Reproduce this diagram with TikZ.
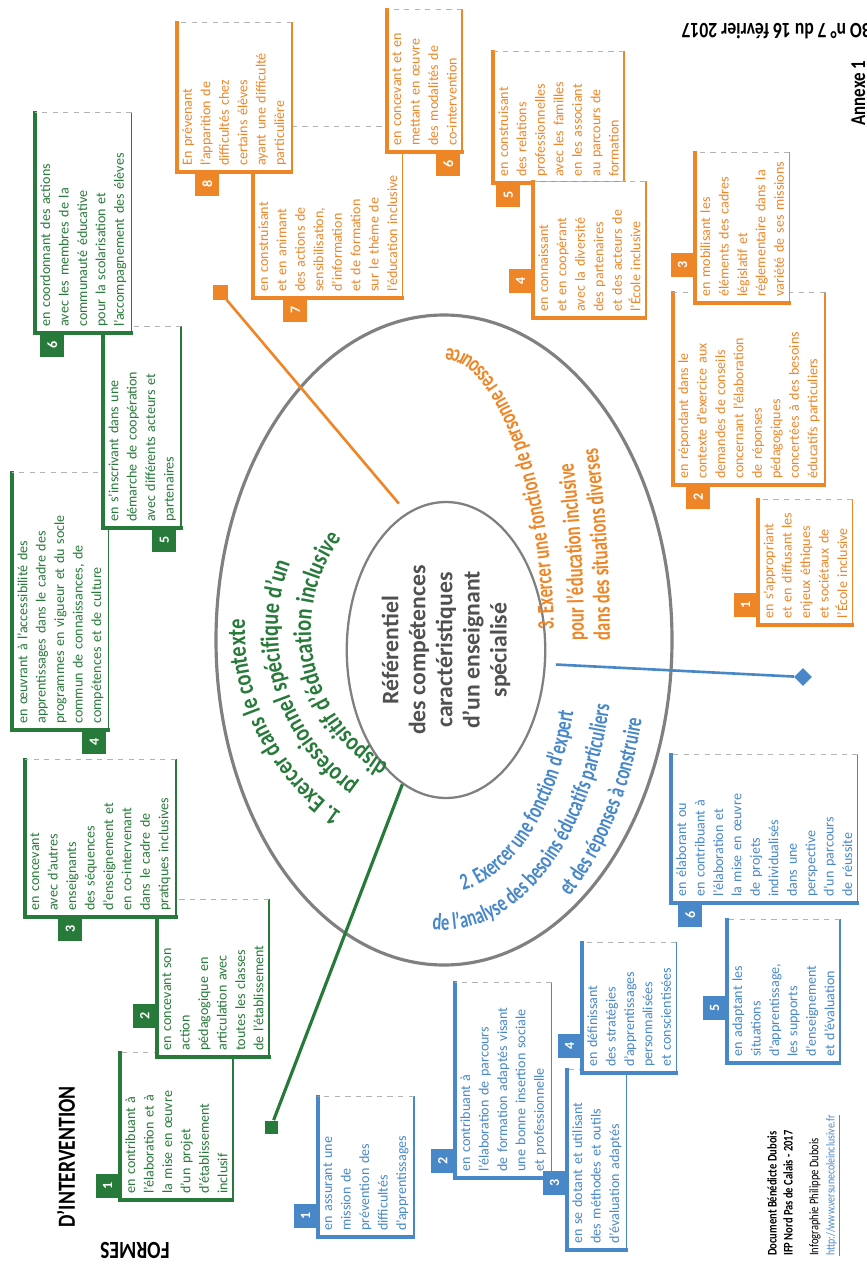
\documentclass[tikz,border=0pt]{standalone}
\usepackage{fontspec}
\setmainfont{Carlito}
\newfontfamily\titlefont[FakeStretch=0.8]{Carlito}
\newfontfamily\narrowfont[FakeStretch=0.7]{Carlito}
\usetikzlibrary{decorations.text,shapes.geometric}

\definecolor{grn}{RGB}{40,122,58}
\definecolor{org}{RGB}{238,134,40}
\definecolor{blu}{RGB}{72,136,200}
\definecolor{gry}{RGB}{128,128,128}
\definecolor{ctxt}{RGB}{80,80,80}

\newlength{\pxu}
\setlength{\pxu}{0.02cm}
\newcommand{\gttl}{\titlefont\bfseries\fontsize{14.5}{16}\selectfont}
\newcommand{\nttl}{\narrowfont\bfseries\fontsize{13.5}{15}\selectfont}

\tikzset{
  cbox/.style={fill=white, text=#1, align=left, anchor=north west,
    inner xsep=6\pxu, inner ysep=5\pxu, font=\fontsize{8}{10.5}\selectfont,
    append after command={
      (\tikzlastnode.north east) edge[draw=#1, line width=1.8pt, line cap=rect] (\tikzlastnode.north west)
      (\tikzlastnode.north west) edge[draw=#1, line width=1.8pt, line cap=rect] (\tikzlastnode.south west)
      (\tikzlastnode.south west) edge[draw=#1, line width=0.9pt] (\tikzlastnode.south east)
      (\tikzlastnode.south east) edge[draw=gry!60, line width=0.6pt, dashed] (\tikzlastnode.north east)}},
  tab/.style={fill=#1, text=white, inner sep=0pt, minimum width=24\pxu, minimum height=24\pxu,
    font=\bfseries\fontsize{8}{8}\selectfont},
  ttl/.style={decorate, decoration={text along path, text color=#1}},
  endsq/.style={fill=#1, inner sep=0pt, minimum size=13\pxu}
}

\begin{document}
\begin{tikzpicture}[x=0.02cm, y=0.02cm]
\useasboundingbox (0,0) rectangle (866,-1267);
\clip (0,0) rectangle (866,-1267);
\begin{scope}[shift={(866,-1267)}, rotate=90, transform shape]

% rings
\draw[gry, line width=1.8pt] (627,422) ellipse [x radius=325, y radius=228];
\node[ellipse, draw=gry, line width=1.3pt, minimum width=296\pxu, minimum height=164\pxu,
  text=ctxt, align=center, font=\bfseries\fontsize{13.5}{15.4}\selectfont] (core) at (617,420)
  {Référentiel\\des compétences\\caractéristiques\\d’un enseignant\\spécialisé};

% titles along the rings
\path[ttl=grn, decoration={text={|\gttl|1. Exercer dans le contexte}}]
  (637,400) ++(146:221) arc[start angle=146, end angle=40, radius=221];
\path[ttl=grn, decoration={text={|\gttl|professionnel spécifique d’un}}]
  (637,400) ++(145:188) arc[start angle=145, end angle=20, radius=188];
\path[ttl=grn, decoration={text={|\gttl|dispositif d’éducation inclusive}}]
  (637,400) ++(150:155) arc[start angle=150, end angle=0, radius=155];
\path[ttl=blu, decoration={text={|\nttl|2. Exercer une fonction d’expert}}]
  (627,422) ++(188:253 and 135) arc[start angle=188, end angle=300, x radius=253, y radius=135];
\path[ttl=blu, decoration={text={|\nttl|de l’analyse des besoins éducatifs particuliers}}]
  (627,422) ++(176:290 and 170) arc[start angle=176, end angle=300, x radius=290, y radius=170];
\path[ttl=blu, decoration={text={|\nttl|et des réponses à construire}}]
  (627,422) ++(218:326 and 204) arc[start angle=218, end angle=300, x radius=326, y radius=204];
\path[ttl=org, decoration={text={|\nttl|3. Exercer une fonction de personne ressource}}]
  (627,422) ++(272:292 and 110) arc[start angle=272, end angle=400, x radius=292, y radius=110];
\path[ttl=org, decoration={text={|\nttl|pour l’éducation inclusive}}]
  (627,422) ++(270:464 and 140) arc[start angle=270, end angle=330, x radius=464, y radius=140];
\path[ttl=org, decoration={text={|\nttl|dans des situations diverses}}]
  (627,422) ++(270:505 and 166) arc[start angle=270, end angle=330, x radius=505, y radius=166];

% connectors
\node[endsq=grn] (gsq) at (140,595) {};
\node[endsq=org, minimum size=15\pxu] (osq) at (975,646) {};
\node[diamond, fill=blu, inner sep=0pt, minimum size=18\pxu] (bdia) at (590,63) {};
\draw[grn, line width=1.8pt] (core.162) -- (gsq);
\draw[org, line width=1.5pt, shorten <=12\pxu] (core.16) -- (osq);
\draw[blu, line width=1.5pt, shorten <=10\pxu] (core.262) -- (bdia);

% green boxes
\node[cbox=grn, text width=135\pxu] (g1) at (67,746) {en contribuant à\\l’élaboration et à\\la mise en œuvre\\d’un projet\\d’établissement\\inclusif};
\node[tab=grn, anchor=south west] (g1n) at (69,746) {1};
\node[cbox=grn, text width=145\pxu] (g2) at (210,709) {en concevant son\\action\\pédagogique en\\articulation avec\\toutes les classes\\de l’établissement};
\node[tab=grn, anchor=south west] (g2n) at (239,709) {2};
\node[cbox=grn, text width=145\pxu] (g3) at (350,841) {en concevant\\avec d’autres\\enseignants\\des séquences\\d’enseignement et\\en co-intervenant\\dans le cadre de\\pratiques inclusives};
\node[tab=grn, anchor=north east] (g3n) at (350,808) {3};
\node[cbox=grn, text width=245\pxu] (g4) at (537,854) {en œuvrant à l’accessibilité des\\apprentissages dans le cadre des\\programmes en vigueur et du socle\\commun de connaissances, de\\compétences et de culture};
\node[tab=grn, anchor=north east] (g4n) at (537,784) {4};
\node[cbox=grn, text width=189\pxu] (g5) at (739,763) {en s’inscrivant dans une\\démarche de coopération\\avec différents acteurs et\\partenaires};
\node[tab=grn, anchor=north east] (g5n) at (739,714) {5};
\node[cbox=grn, text width=208\pxu] (g6) at (934,831) {en coordonnant des actions\\avec les membres de la\\communauté éducative\\pour la scolarisation et\\l’accompagnement des élèves};
\node[tab=grn, anchor=north east] (g6n) at (934,826) {6};

% orange boxes
\node[cbox=org, text width=159\pxu] (o7) at (969,613) {en construisant\\et en animant\\des actions de\\sensibilisation,\\d’information\\et de formation\\sur le thème de\\l’éducation inclusive};
\node[tab=org, anchor=north east] (o7n) at (969,583) {7};
\node[cbox=org, text width=137\pxu] (o8) at (1095,689) {En prévenant\\l’apparition de\\difficultés chez\\certains élèves\\ayant une difficulté\\particulière};
\node[tab=org, anchor=north east] (o8n) at (1095,671) {8};
\node[cbox=org, text width=130\pxu] (o6) at (1115,479) {en concevant et en\\mettant en œuvre\\des modalités de\\co-intervention};
\node[tab=org, anchor=north east] (o6n) at (1115,430) {6};
\node[cbox=org, text width=119\pxu] (o5) at (1084,373) {en construisant\\des relations\\professionnelles\\avec les familles\\en les associant\\au parcours de\\formation};
\node[tab=org, anchor=north east] (o5n) at (1084,370) {5};
\node[cbox=org, text width=124\pxu] (o4) at (949,333) {en connaissant\\et en coopérant\\avec la diversité\\des partenaires\\et des acteurs de\\l’École inclusive};
\node[tab=org, anchor=south west] (o4n) at (974,333) {4};
\node[cbox=org, text width=180\pxu] (o2) at (782,193) {en répondant dans le\\contexte d’exercice aux\\demandes de conseils\\concernant l’élaboration\\de réponses\\pédagogiques\\concertées à des besoins\\éducatifs particuliers};
\node[tab=org, anchor=north east] (o2n) at (782,180) {2};
\node[cbox=org, text width=138\pxu] (o3) at (964,171) {en mobilisant les\\éléments des cadres\\législatif et\\réglementaire dans la\\variété de ses missions};
\node[tab=org, anchor=south west] (o3n) at (990,171) {3};
\node[cbox=org, text width=113\pxu] (o1) at (642,108) {en s’appropriant\\et en diffusant les\\enjeux éthiques\\et sociétaux de\\l’École inclusive};
\node[tab=org, anchor=south west] (o1n) at (650,108) {1};

% blue boxes
\node[cbox=blu, text width=128\pxu] (b1) at (30,548) {en assurant une\\mission de\\prévention des\\difficultés\\d’apprentissages};
\node[tab=blu, anchor=south west] (b1n) at (39,548) {1};
\node[cbox=blu, text width=183\pxu] (b2) at (89,411) {en contribuant à\\l’élaboration de parcours\\de formation adaptés visant\\une bonne insertion sociale\\et professionnelle};
\node[tab=blu, anchor=south west] (b2n) at (94,411) {2};
\node[cbox=blu, text width=168\pxu] (b3) at (17,299) {en se dotant et utilisant\\des méthodes et outils\\d’évaluation adaptés};
\node[tab=blu, anchor=south west] (b3n) at (72,299) {3};
\node[cbox=blu, text width=118\pxu] (b4) at (194,284) {en définissant\\des stratégies\\d’apprentissages\\personnalisées\\et conscientisées};
\node[tab=blu, anchor=south west] (b4n) at (209,284) {4};
\node[cbox=blu, text width=131\pxu] (b5) at (204,139) {en adaptant les\\situations\\d’apprentissage,\\les supports\\d’enseignement\\et d’évaluation};
\node[tab=blu, anchor=south west] (b5n) at (247,139) {5};
\node[cbox=blu, text width=136\pxu] (b6) at (364,195) {en élaborant ou\\en contribuant à\\l’élaboration et\\la mise en œuvre\\de projets\\individualisés\\dans une\\perspective\\d’un parcours\\de réussite};
\node[tab=blu, anchor=north east] (b6n) at (364,188) {6};

% headings and credits
\node[font=\titlefont\bfseries\fontsize{14}{14}\selectfont] (interv) at (110,800) {D’INTERVENTION};
\node[font=\titlefont\bfseries\fontsize{14}{14}\selectfont, rotate=90] (formes) at (17,731) {FORMES};
\node[font=\titlefont\bfseries\fontsize{12.5}{14}\selectfont, rotate=90, anchor=west] (bo) at (1236,-12) {BO n° 7 du 16 février 2017};
\node[font=\titlefont\bfseries\fontsize{12}{12}\selectfont, anchor=base] (annexe) at (1174,1) {Annexe 1};
\node[font=\titlefont\bfseries\fontsize{7.5}{8}\selectfont, anchor=west] (doc) at (5,94) {Document Bénédicte Dubois};
\node[font=\titlefont\bfseries\fontsize{7.5}{8}\selectfont, anchor=west] (ifp) at (5,78) {IFP Nord Pas de Calais - 2017};
\node[font=\titlefont\fontsize{7.5}{8}\selectfont, anchor=west] (info) at (5,51) {Infographie Philippe Dubois};
\node[font=\titlefont\fontsize{7}{8}\selectfont, text=blu, anchor=west] (url) at (5,33) {\underline{http://www.versunecoleinclusive.fr}};
\end{scope}
\end{tikzpicture}
\end{document}
